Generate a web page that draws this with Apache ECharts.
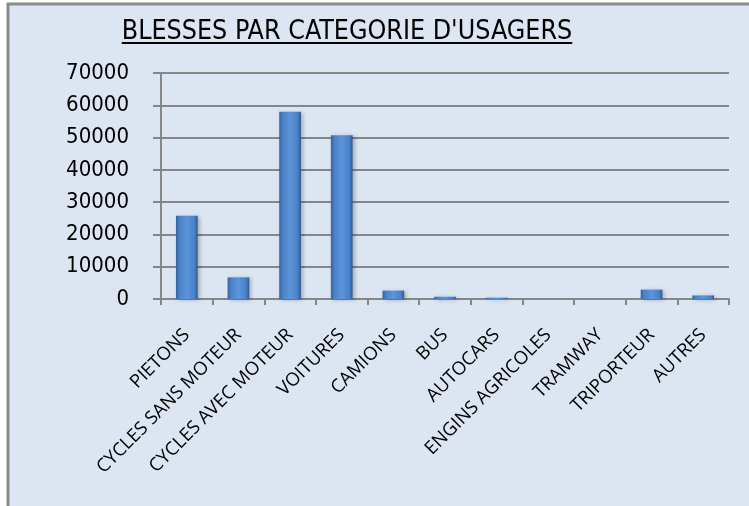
<!DOCTYPE html>
<html>
<head>
<meta charset="utf-8">
<script src="https://cdn.jsdelivr.net/npm/echarts@6/dist/echarts.min.js"></script>
<style>
html,body{margin:0;padding:0;background:#fff;}
#c{width:749px;height:506px;}
</style>
</head>
<body>
<div id="c"></div>
<script>
const categories = ['PIETONS','CYCLES SANS MOTEUR','CYCLES AVEC MOTEUR','VOITURES','CAMIONS','BUS','AUTOCARS','ENGINS AGRICOLES','TRAMWAY','TRIPORTEUR','AUTRES'];
const values = [25800, 6700, 58000, 50700, 2600, 700, 400, 0, 0, 2900, 1100];
const yTicks = [0, 10000, 20000, 30000, 40000, 50000, 60000, 70000];
const titleText = "BLESSES PAR CATEGORIE D'USAGERS";

const condensed = '"Liberation Sans Narrow", "DejaVu Sans Condensed", sans-serif';
const titleSize = 26.6;
const titleCenter = 347;

const chart = echarts.init(document.getElementById('c'));
const barColor = new echarts.graphic.LinearGradient(0, 0, 1, 0, [
  {offset: 0, color: '#34639f'},
  {offset: 0.15, color: '#4a80c6'},
  {offset: 0.5, color: '#5b95dc'},
  {offset: 0.85, color: '#4a80c6'},
  {offset: 1, color: '#2c5890'}
]);
const ctx = document.createElement('canvas').getContext('2d');
ctx.font = titleSize + 'px ' + condensed;
const tw = ctx.measureText(titleText).width;

chart.setOption({
  backgroundColor: '#ffffff',
  animation: false,
  graphic: [
    {type: 'rect', shape: {x: 8, y: 4, width: 760, height: 520}, style: {fill: '#dce6f2', stroke: '#8a8a8a', lineWidth: 3}, z: -10},
    {type: 'line', shape: {x1: titleCenter - tw/2, y1: 43, x2: titleCenter + tw/2, y2: 43}, style: {stroke: '#000', lineWidth: 2}}
  ],
  title: {
    text: titleText,
    left: titleCenter - tw/2 - 5, top: 14,
    textStyle: {fontFamily: condensed, fontSize: titleSize, fontWeight: 'normal', color: '#000'}
  },
  grid: {left: 161, right: 20, top: 73, bottom: 207, containLabel: false},
  xAxis: {
    type: 'category',
    data: categories,
    axisLine: {lineStyle: {color: '#868686', width: 2}},
    axisTick: {show: true, length: 6, lineStyle: {color: '#868686', width: 2}},
    axisLabel: {rotate: 45, interval: 0, margin: 33, color: '#000', fontFamily: '"Open Sans", sans-serif', fontSize: 18.5}
  },
  yAxis: {
    type: 'value', min: 0, max: 70000, interval: 10000,
    axisLine: {show: true, lineStyle: {color: '#868686', width: 2}},
    axisTick: {show: true, length: 8, lineStyle: {color: '#868686', width: 2}},
    splitLine: {lineStyle: {color: '#868686', width: 2}},
    axisLabel: {margin: 32, color: '#000', fontFamily: condensed, fontSize: 22,
      formatter: v => yTicks.includes(v) ? String(v) : ''}
  },
  series: [{
    type: 'bar', data: values, barWidth: '42%',
    itemStyle: {color: barColor, borderWidth: 0,
      shadowColor: 'rgba(0,0,0,0.25)', shadowBlur: 4, shadowOffsetX: 2, shadowOffsetY: 1}
  }]
});
</script>
</body>
</html>
